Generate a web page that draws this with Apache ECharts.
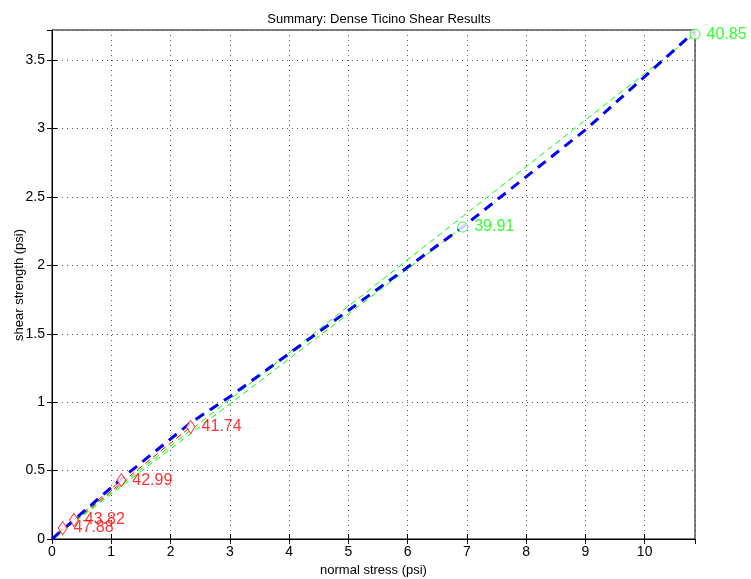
<!DOCTYPE html>
<html>
<head>
<meta charset="utf-8">
<script src="https://cdn.jsdelivr.net/npm/echarts@6/dist/echarts.min.js"></script>
<style>
  html, body { margin: 0; padding: 0; background: #fff; }
  #chart { width: 751px; height: 579px; }
</style>
</head>
<body>
<div id="chart"></div>
<script>
// test points (red = low stress, green = high stress), labels are friction angles
const redX = [0.18, 0.37, 1.17, 2.34];
const redY = [0.08, 0.14, 0.43, 0.82];
const redLabels = ["47.88", "43.82", "42.99", "41.74"];
const greenX = [6.93, 10.85];
const greenY = [2.28, 3.69];
const greenLabels = ["39.91", "40.85"];
// blue summary curve
const blueX = [0, 1.17, 2.34, 3, 5, 6.93, 9, 10.85];
const blueY = [0, 0.44, 0.85, 1.04, 1.67, 2.28, 2.99, 3.71];

const fontFam = "Liberation Sans, Arial, sans-serif";

function pts(xs, ys) {
  return xs.map((x, i) => [x, ys[i]]);
}

// one thin dashed line from the origin to every point
function originLines(xs, ys, color) {
  return xs.map((x, i) => ({
    type: "line",
    data: [[0, 0], [x, ys[i]]],
    showSymbol: false,
    silent: true,
    z: 2,
    lineStyle: { color: color, width: 1, type: [6, 4] },
  }));
}

function markers(xs, ys, labels, color, symbol, size) {
  return {
    type: "scatter",
    data: pts(xs, ys).map((p, i) => ({ value: p, name: labels[i] })),
    symbol: symbol,
    symbolSize: size,
    clip: false,
    z: 5,
    itemStyle: { color: "#fff", borderColor: color, borderWidth: 1 },
    label: {
      show: true,
      position: "right",
      distance: 6,
      formatter: (p) => p.name,
      color: color,
      fontSize: 16,
      fontFamily: fontFam,
    },
  };
}

const tickStyle = { show: true, inside: true, length: 5, lineStyle: { color: "#000" } };

const option = {
  backgroundColor: "#fff",
  animation: false,
  title: {
    text: "Summary: Dense Ticino Shear Results",
    left: 374,
    textAlign: "center",
    top: 8,
    textStyle: { fontSize: 13, fontWeight: "normal", color: "#000", fontFamily: fontFam },
  },
  // y axis title placed by hand
  graphic: [
    {
      type: "text",
      x: 19,
      y: 285,
      rotation: Math.PI / 2,
      style: {
        text: "shear strength (psi)",
        fontSize: 13,
        fontFamily: fontFam,
        fill: "#000",
        align: "center",
        verticalAlign: "middle",
      },
    },
  ],
  grid: {
    left: 52,
    top: 30,
    width: 643,
    height: 509,
    outerBoundsMode: "none",
    containLabel: false,
    show: true,
    borderColor: "#000",
    borderWidth: 1,
    backgroundColor: "#fff",
  },
  xAxis: [
    {
      type: "value",
      min: 0,
      max: 10.85,
      interval: 1,
      name: "normal stress (psi)",
      nameLocation: "middle",
      nameGap: 23,
      nameTextStyle: { fontSize: 13, color: "#000", fontFamily: fontFam },
      axisLine: { show: true, lineStyle: { color: "#000" } },
      axisTick: tickStyle,
      axisLabel: { showMaxLabel: false, color: "#000", fontSize: 14, margin: 6, fontFamily: fontFam },
      splitLine: { show: true, lineStyle: { color: "#555", type: [1, 4], width: 1 } },
    },
    {
      type: "value",
      position: "top",
      min: 0,
      max: 10.85,
      interval: 1,
      axisLine: { show: true, lineStyle: { color: "#000" } },
      axisTick: tickStyle,
      axisLabel: { show: false },
      splitLine: { show: false },
    },
  ],
  yAxis: [
    {
      type: "value",
      min: 0,
      max: 3.72,
      interval: 0.5,
      axisLine: { show: true, lineStyle: { color: "#000" } },
      axisTick: tickStyle,
      axisLabel: { showMaxLabel: false, color: "#000", fontSize: 14, margin: 7, fontFamily: fontFam },
      splitLine: { show: true, lineStyle: { color: "#555", type: [1, 4], width: 1 } },
    },
    {
      type: "value",
      position: "right",
      min: 0,
      max: 3.72,
      interval: 0.5,
      axisLine: { show: true, lineStyle: { color: "#000" } },
      axisTick: tickStyle,
      axisLabel: { show: false },
      splitLine: { show: false },
    },
  ],
  series: [
    ...originLines(redX, redY, "#ff0000"),
    ...originLines(greenX, greenY, "#00ff00"),
    {
      type: "line",
      data: pts(blueX, blueY),
      showSymbol: false,
      silent: true,
      z: 3,
      lineStyle: { color: "#0000ff", width: 3, type: [10, 7] },
    },
    markers(redX, redY, redLabels, "#ff0000", "diamond", [9, 13]),
    markers(greenX, greenY, greenLabels, "#00ff00", "circle", 10),
  ],
};

const myChart = echarts.init(document.getElementById("chart"));
myChart.setOption(option);
</script>
</body>
</html>
